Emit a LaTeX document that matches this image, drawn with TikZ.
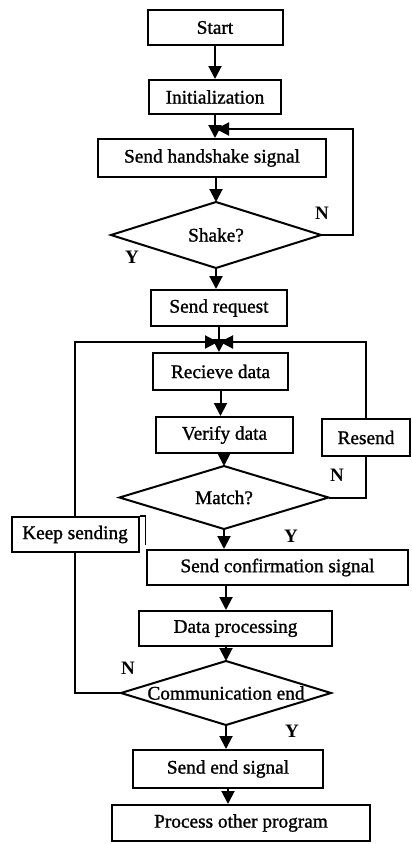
\documentclass[tikz,border=0pt]{standalone}
\usepackage{fontspec}
\setmainfont{Liberation Serif}
\newfontfamily\boxfont{Liberation Serif}[FakeBold=1.2]
\usetikzlibrary{arrows.meta,calc}
\begin{document}
\begin{tikzpicture}[x=1pt,y=-1pt,
  line width=2pt,
  txt/.style={font=\boxfont\fontsize{19.3}{21}\selectfont},
  box/.style={draw, rectangle, inner sep=0pt, txt},
  decision/.style={rectangle, inner sep=0pt, txt},
  yn/.style={inner sep=0pt, font=\fontsize{19}{21}\selectfont\bfseries},
  arr/.style={-{Triangle[length=13pt,width=13pt]}},
]
\useasboundingbox (0,0) rectangle (412,844);

% main column
\node[box, minimum width=135pt, minimum height=35pt] (start) at (215,27.5) {Start};
\node[box, minimum width=132pt, minimum height=34pt] (init) at (215,97) {Initialization};
\node[box, minimum width=228pt, minimum height=38pt] (hand) at (212,158) {Send handshake signal};
\node[decision, minimum width=208pt, minimum height=64pt] (shake) at (216,235) {Shake?};
\node[box, minimum width=136pt, minimum height=36pt] (req) at (219,308) {Send request};
\node[box, minimum width=135pt, minimum height=37pt] (recv) at (220.5,371.5) {Recieve data};
\node[box, minimum width=137pt, minimum height=36pt] (verify) at (224.5,435) {Verify data};
\node[box, minimum width=88pt, minimum height=37pt] (resend) at (366,437.5) {Resend};
\node[decision, minimum width=207pt, minimum height=61pt] (match) at (224,497.5) {Match?};
\node[box, minimum width=127pt, minimum height=35pt] (keep) at (75,534.5) {Keep sending};
\node[box, minimum width=261pt, minimum height=35pt] (confirm) at (277.5,567.5) {Send confirmation signal};
\node[box, minimum width=193pt, minimum height=35pt] (proc) at (235.5,628.5) {Data processing};
\node[decision, minimum width=208pt, minimum height=62pt] (comm) at (226,693) {Communication end};
\node[box, minimum width=190pt, minimum height=38pt] (sendend) at (228,769) {Send end signal};
\node[box, minimum width=258pt, minimum height=36pt] (other) at (241,823) {Process other program};

% decision outlines
\foreach \d in {shake,match,comm}
  \draw (\d.north) -- (\d.east) -- (\d.south) -- (\d.west) -- cycle;

% second edge beside the "Keep sending" box
\draw[line width=1.2pt] (keep.north east) -- ++(6,0) -- ++(0,29);

% junction points of the loops
\coordinate (j1) at (216,129);
\coordinate (j2l) at (218,342);
\coordinate (j2r) at (220,342);

% straight flow
\draw[arr] (start.south) -- (start.south |- init.north);
\draw[arr] (init.south) -- (init.south |- hand.north);
\draw[arr] (hand.south -| shake.north) -- (shake.north);
\draw[arr] (shake.south) -- (shake.south |- req.north);
\draw[arr] (req.south) -- (req.south |- recv.north);
\draw[arr] (recv.south) -- (recv.south |- verify.north);
\draw[arr] (verify.south -| match.north) -- (match.north);
\draw[arr] (match.south) -- (match.south |- confirm.north);
\draw[arr] (comm.north |- confirm.south) -- (comm.north |- proc.north);
\draw[arr] (comm.north |- proc.south) -- (comm.north);
\draw[arr] (comm.south) -- (comm.south |- sendend.north);
\draw[arr] (sendend.south) -- (sendend.south |- other.north);

% handshake retry loop
\draw[arr] (shake.east) -- ++(32,0) |- (j1);

% resend loop
\draw (match.east) -| (resend.south);
\draw[arr] (resend.north) |- (j2r);

% keep sending loop
\draw (comm.west) -| (keep.south);
\draw[arr] (keep.north) |- (j2l);

% branch labels
\node[yn] (n1) at (322,213) {N};
\node[yn] (y1) at (132,257) {Y};
\node[yn] (n2) at (337,475) {N};
\node[yn] (y2) at (291,536) {Y};
\node[yn] (n3) at (128,668) {N};
\node[yn] (y3) at (292,731) {Y};
\end{tikzpicture}
\end{document}
